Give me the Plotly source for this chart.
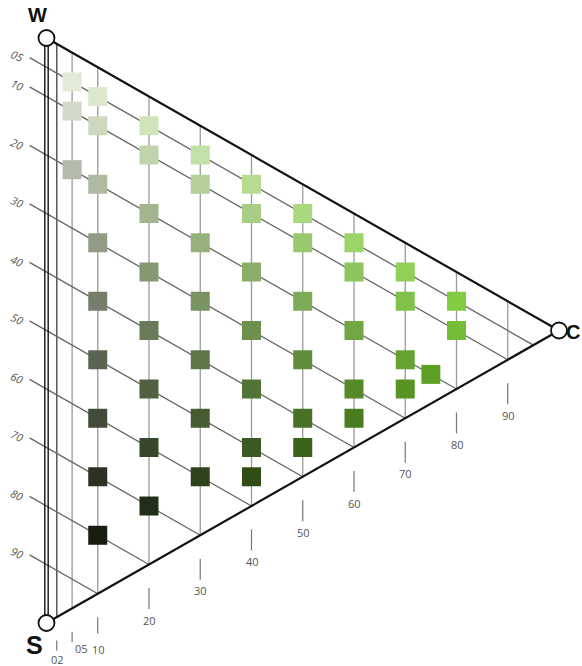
import plotly.graph_objects as go

# composition of every sample square in percent (W = 100 - C - S)
sample_c = [5, 5, 5,
            10, 10, 10, 10, 10, 10, 10, 10, 10,
            20, 20, 20, 20, 20, 20, 20, 20,
            30, 30, 30, 30, 30, 30, 30,
            40, 40, 40, 40, 40, 40, 40,
            50, 50, 50, 50, 50, 50,
            60, 60, 60, 60, 60,
            70, 70, 70, 70,
            75,
            80, 80]
sample_s = [5, 10, 20,
            5, 10, 20, 30, 40, 50, 60, 70, 80,
            5, 10, 20, 30, 40, 50, 60, 70,
            5, 10, 20, 30, 40, 50, 60,
            5, 10, 20, 30, 40, 50, 55,
            5, 10, 20, 30, 40, 45,
            5, 10, 20, 30, 35,
            5, 10, 20, 25,
            20,
            5, 10]

# grid lines and their labels
c_grid = [2, 5, 10, 20, 30, 40, 50, 60, 70, 80, 90]
c_labels = ["02", "05", "10", "20", "30", "40", "50", "60", "70", "80", "90"]
s_grid = [5, 10, 20, 30, 40, 50, 60, 70, 80, 90]
s_labels = ["05", "10", "20", "30", "40", "50", "60", "70", "80", "90"]

vertex_names = ["W", "S", "C"]


def to_xy(c, s):
    # W top-left, S bottom-left, C at the right point
    return c, 100 - s - c / 2


WHITE = (250, 252, 242)
GREEN = (118, 212, 38)


def mix_colour(c, s):
    # W/C mix gives the hue, S darkens it
    w = 100 - c - s
    base = [(w * a + c * b) / (w + c) for a, b in zip(WHITE, GREEN)]
    shade = (1 - s / 100) ** 1.3
    return "rgb(%d,%d,%d)" % tuple(round(v * shade) for v in base)


fig = go.Figure()

# vertical lines (constant C), top edge to bottom edge
vx, vy = [], []
for c in c_grid:
    vx += [c, c, None]
    vy += [100 - c / 2, c / 2, None]
fig.add_trace(go.Scatter(x=vx, y=vy, mode="lines",
                         line=dict(color="#9a9a9a", width=1.3), hoverinfo="skip"))

# C=2 line a bit darker
fig.add_trace(go.Scatter(x=[2, 2], y=[99, 1], mode="lines",
                         line=dict(color="#555555", width=1.3), hoverinfo="skip"))

# diagonal lines (constant S), from outside the left edge to the bottom edge
dx, dy = [], []
for s in s_grid:
    x0, y0 = to_xy(-3.3, s)
    x1, y1 = to_xy(100 - s, s)
    dx += [x0, x1, None]
    dy += [y0, y1, None]
fig.add_trace(go.Scatter(x=dx, y=dy, mode="lines",
                         line=dict(color="#666666", width=1.3), hoverinfo="skip"))

# bottom ticks below the S-C edge
tick_len = {2: 1.7, 5: 1.8, 10: 2.8}
tx, ty = [], []
for c in c_grid:
    edge = c / 2
    tx += [c, c, None]
    ty += [edge - 4.0, edge - 4.0 - tick_len.get(c, 3.6), None]
fig.add_trace(go.Scatter(x=tx, y=ty, mode="lines",
                         line=dict(color="#777777", width=1.2), hoverinfo="skip"))

# triangle outline: double line on the W-S side
fig.add_trace(go.Scatter(x=[-0.33, -0.33, None, 0.33, 0.33],
                         y=[100, 0, None, 100, 0], mode="lines",
                         line=dict(color="#111111", width=1.4), hoverinfo="skip"))
fig.add_trace(go.Scatter(x=[0, 100, 0], y=[100, 50, 0], mode="lines",
                         line=dict(color="#111111", width=2.2), hoverinfo="skip"))

# sample squares
px, py = zip(*[to_xy(c, s) for c, s in zip(sample_c, sample_s)])
fig.add_trace(go.Scatter(
    x=px, y=py, mode="markers",
    marker=dict(symbol="square", size=19,
                color=[mix_colour(c, s) for c, s in zip(sample_c, sample_s)],
                line=dict(width=0)),
    hovertext=["W %d / S %d / C %d" % (100 - c - s, s, c)
               for c, s in zip(sample_c, sample_s)],
    hoverinfo="text"))

# vertex circles
fig.add_trace(go.Scatter(x=[0, 0, 100], y=[100, 0, 50], mode="markers",
                         marker=dict(symbol="circle", size=16, color="white",
                                     line=dict(color="#111111", width=1.8)),
                         hoverinfo="skip"))

for name, ax_, ay_, size in zip(vertex_names, [-1.85, -2.3, 102.8], [104.0, -3.8, 49.7], [20, 25, 20]):
    fig.add_annotation(x=ax_, y=ay_, text="<b>%s</b>" % name, showarrow=False,
                       font=dict(family="Liberation Sans", size=size, color="#111111"))

# bottom tick labels
for c, lab in zip(c_grid, c_labels):
    if c == 2:
        lx, ly = c + 0.1, c / 2 - 7.3
    elif c == 5:
        lx, ly = c + 1.8, c / 2 - 6.8
    else:
        lx, ly = c + 0.1, c / 2 - 9.5
    fig.add_annotation(x=lx, y=ly, text=lab, showarrow=False,
                       font=dict(family="Open Sans", size=11, color="#555555"))

# left labels for the S lines
for s, lab in zip(s_grid, s_labels):
    fig.add_annotation(x=-5.8, y=100 - s + 2.0, text="<i>%s</i>" % lab,
                       showarrow=False, textangle=25,
                       font=dict(family="Open Sans", size=11, color="#555555"))

fig.update_layout(
    width=582, height=666,
    margin=dict(l=0, r=0, t=0, b=0),
    paper_bgcolor="white", plot_bgcolor="white",
    showlegend=False,
    xaxis=dict(range=[-9.07, 104.49], visible=False, fixedrange=True),
    yaxis=dict(range=[-7.35, 106.5], visible=False, fixedrange=True),
)

fig.write_html("out.html", config={"displayModeBar": False},
               post_script="document.body.style.margin='0';")
